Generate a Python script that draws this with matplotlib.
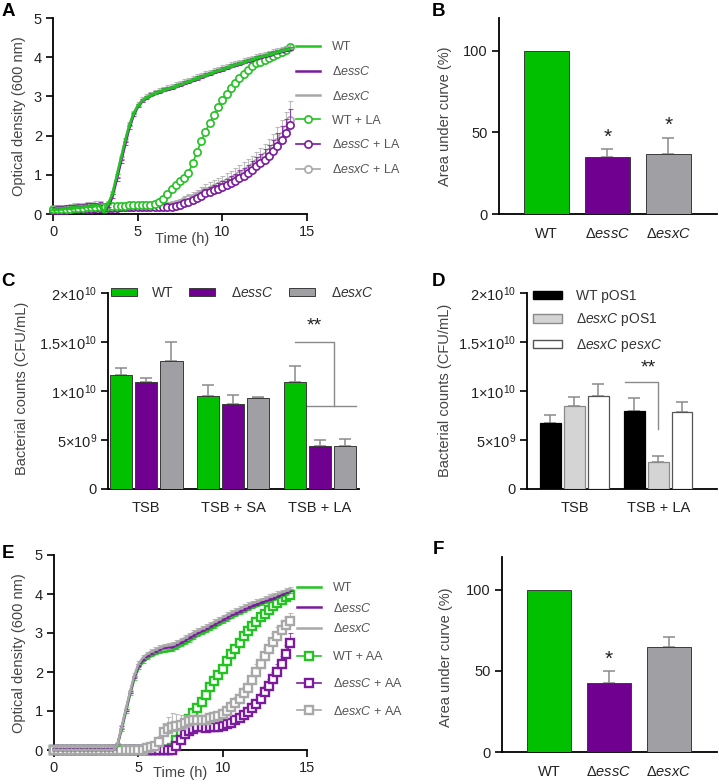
import numpy as np
import matplotlib
matplotlib.use('Agg')
import matplotlib.pyplot as plt
from matplotlib.patches import Patch

plt.rcParams['font.family'] = 'Liberation Sans'
plt.rcParams['mathtext.fontset'] = 'custom'
plt.rcParams['mathtext.rm'] = 'Liberation Sans'
plt.rcParams['mathtext.it'] = 'Liberation Sans:italic'

# ---------------- data ----------------
time_h = np.arange(0, 14.01, 0.25)

# panel A: growth in TSB +/- linoleic acid
a_wt = [0.10, 0.11, 0.12, 0.13, 0.14, 0.15, 0.16, 0.17, 0.18, 0.19, 0.20, 0.21,
        0.05, 0.25, 0.50, 0.95, 1.40, 1.85, 2.25, 2.55, 2.75, 2.88, 2.96, 3.02, 3.07,
        3.11, 3.15, 3.18, 3.21, 3.25, 3.29, 3.33, 3.37, 3.41, 3.45, 3.49, 3.53, 3.57,
        3.61, 3.65, 3.68, 3.72, 3.76, 3.79, 3.83, 3.86, 3.90, 3.93, 3.97, 4.00, 4.03,
        4.06, 4.09, 4.12, 4.15, 4.18, 4.21]
a_ess = [0.11, 0.12, 0.13, 0.14, 0.15, 0.16, 0.17, 0.18, 0.19, 0.20, 0.21, 0.22,
         0.03, 0.18, 0.42, 0.85, 1.30, 1.75, 2.18, 2.50, 2.72, 2.86, 2.94, 3.00, 3.05,
         3.09, 3.13, 3.16, 3.19, 3.23, 3.27, 3.31, 3.35, 3.39, 3.43, 3.47, 3.51, 3.55,
         3.59, 3.63, 3.66, 3.70, 3.74, 3.77, 3.81, 3.84, 3.88, 3.91, 3.95, 3.98, 4.01,
         4.04, 4.07, 4.10, 4.13, 4.16, 4.19]
a_esx = [0.12, 0.14, 0.15, 0.16, 0.18, 0.19, 0.20, 0.21, 0.22, 0.23, 0.24, 0.25,
         0.05, 0.24, 0.50, 0.94, 1.40, 1.86, 2.26, 2.56, 2.77, 2.90, 2.98, 3.04, 3.09,
         3.13, 3.17, 3.20, 3.24, 3.28, 3.32, 3.36, 3.40, 3.44, 3.48, 3.52, 3.56, 3.60,
         3.64, 3.68, 3.71, 3.75, 3.79, 3.82, 3.86, 3.89, 3.93, 3.96, 4.00, 4.03, 4.06,
         4.09, 4.12, 4.15, 4.18, 4.21, 4.24]
a_wt_la = [0.12, 0.12, 0.13, 0.13, 0.14, 0.15, 0.15, 0.16, 0.17, 0.17, 0.18, 0.19,
           0.19, 0.20, 0.20, 0.21, 0.21, 0.21, 0.22, 0.22, 0.22, 0.23, 0.23, 0.24,
           0.26, 0.30, 0.37, 0.50, 0.64, 0.75, 0.84, 0.93,
           1.05, 1.30, 1.58, 1.85, 2.10, 2.32, 2.53, 2.73, 2.92, 3.07, 3.21, 3.35,
           3.47, 3.58, 3.68, 3.77, 3.84, 3.89, 3.94, 3.98, 4.02, 4.07, 4.12, 4.19, 4.27]
a_ess_la = [0.10, 0.10, 0.11, 0.11, 0.12, 0.12, 0.13, 0.13, 0.14, 0.14, 0.15, 0.15,
            0.15, 0.16, 0.16, 0.16, 0.17, 0.17, 0.17, 0.17, 0.18, 0.18, 0.18, 0.18,
            0.18, 0.18, 0.18, 0.18,
            0.18, 0.20, 0.23, 0.27, 0.31, 0.35, 0.40, 0.47, 0.53, 0.57, 0.60, 0.65,
            0.70, 0.74, 0.79, 0.85, 0.92, 0.98, 1.05, 1.13, 1.22, 1.30, 1.39, 1.49,
            1.60, 1.74, 1.90, 2.07, 2.28]
a_esx_la = [0.11, 0.11, 0.12, 0.12, 0.13, 0.13, 0.14, 0.14, 0.15, 0.15, 0.16, 0.16,
            0.17, 0.17, 0.18, 0.18, 0.18, 0.19, 0.19, 0.19, 0.20, 0.20, 0.20, 0.20,
            0.21, 0.21, 0.21, 0.21,
            0.22, 0.25, 0.29, 0.33, 0.37, 0.41, 0.46, 0.52, 0.58, 0.62, 0.66, 0.71,
            0.76, 0.81, 0.86, 0.92, 0.99, 1.05, 1.12, 1.20, 1.29, 1.38, 1.47, 1.57,
            1.69, 1.83, 1.99, 2.17, 2.40]
a_ess_la_err = [0.03, 0.03, 0.03, 0.03, 0.03, 0.03, 0.03, 0.03, 0.03, 0.03, 0.03, 0.03,
                0.03, 0.03, 0.03, 0.03, 0.03, 0.03, 0.03, 0.03, 0.03, 0.03, 0.03, 0.03,
                0.03, 0.03, 0.03, 0.03,
                0.04, 0.05, 0.05, 0.06, 0.07, 0.08, 0.09, 0.10, 0.11, 0.12, 0.13, 0.14,
                0.15, 0.16, 0.17, 0.18, 0.19, 0.20, 0.21, 0.22, 0.23, 0.24, 0.26, 0.28,
                0.30, 0.32, 0.34, 0.36, 0.40]
a_esx_la_err = [0.05, 0.05, 0.05, 0.05, 0.06, 0.06, 0.06, 0.07, 0.07, 0.07, 0.08, 0.08,
                0.08, 0.08, 0.08, 0.08, 0.08, 0.08, 0.08, 0.08, 0.08, 0.08, 0.08, 0.08,
                0.08, 0.08, 0.08, 0.08,
                0.06, 0.08, 0.10, 0.12, 0.14, 0.15, 0.16, 0.17, 0.18, 0.19, 0.20, 0.21,
                0.22, 0.23, 0.24, 0.25, 0.26, 0.27, 0.28, 0.29, 0.30, 0.31, 0.32, 0.34,
                0.36, 0.38, 0.40, 0.43, 0.47]

# panel E: growth in TSB +/- arachidonic acid
e_wt = [0, 0, 0, 0, 0, 0, 0, 0, 0, 0, 0, 0, 0, 0, 0,
        0.10, 0.50, 0.95, 1.40, 1.80, 2.08, 2.24, 2.33, 2.40, 2.45, 2.49, 2.52, 2.53,
        2.55, 2.60, 2.66, 2.72, 2.78, 2.85, 2.92, 2.97, 3.02, 3.08, 3.14, 3.20, 3.26,
        3.32, 3.38, 3.44, 3.49, 3.54, 3.59, 3.64, 3.68, 3.72, 3.77, 3.81, 3.85, 3.89,
        3.94, 3.98, 4.03]
e_ess = [0, 0, 0, 0, 0, 0, 0, 0, 0, 0, 0, 0, 0, 0, 0,
         0.12, 0.55, 1.00, 1.45, 1.85, 2.15, 2.30, 2.40, 2.47, 2.52, 2.57, 2.62, 2.63,
         2.63, 2.68, 2.74, 2.80, 2.86, 2.93, 2.99, 3.04, 3.09, 3.15, 3.21, 3.27, 3.33,
         3.39, 3.45, 3.50, 3.55, 3.60, 3.65, 3.69, 3.73, 3.77, 3.81, 3.85, 3.88, 3.93,
         3.98, 4.03, 4.08]
e_esx = [0, 0, 0, 0, 0, 0, 0, 0, 0, 0, 0, 0, 0, 0, 0,
         0.12, 0.57, 1.03, 1.48, 1.90, 2.20, 2.36, 2.45, 2.52, 2.57, 2.62, 2.66, 2.68,
         2.70, 2.75, 2.81, 2.87, 2.94, 3.00, 3.06, 3.11, 3.16, 3.22, 3.28, 3.34, 3.40,
         3.46, 3.52, 3.57, 3.62, 3.67, 3.72, 3.76, 3.80, 3.84, 3.88, 3.92, 3.96, 4.00,
         4.04, 4.08, 4.12]
e_wt_aa = [0, 0, 0, 0, 0, 0, 0, 0, 0, 0, 0, 0, 0, 0, 0, 0, 0, 0, 0, 0, 0, 0, 0, 0,
           0, 0, 0, 0,
           0.05, 0.25, 0.45, 0.62, 0.80, 0.95, 1.08, 1.22, 1.42, 1.62, 1.78, 1.92,
           2.08, 2.27, 2.45, 2.60, 2.75, 2.92, 3.05, 3.17, 3.28, 3.40, 3.50, 3.60,
           3.70, 3.78, 3.85, 3.92, 3.97]
e_ess_aa = [0, 0, 0, 0, 0, 0, 0, 0, 0, 0, 0, 0, 0, 0, 0, 0, 0, 0, 0, 0, 0, 0, 0, 0,
            0, 0, 0, 0,
            0.00, 0.10, 0.25, 0.40, 0.50, 0.55, 0.58, 0.58, 0.57, 0.58, 0.58, 0.60,
            0.62, 0.66, 0.70, 0.76, 0.83, 0.90, 0.98, 1.08, 1.18, 1.32, 1.48, 1.65,
            1.83, 2.00, 2.20, 2.45, 2.74]
e_esx_aa = [0, 0, 0, 0, 0, 0, 0, 0, 0, 0, 0, 0, 0, 0, 0, 0, 0, 0, 0, 0, 0, 0,
            0.05, 0.08, 0.10, 0.20, 0.45, 0.55, 0.60, 0.62, 0.65, 0.70, 0.75, 0.78,
            0.78, 0.77, 0.78, 0.82, 0.85, 0.88, 0.93, 1.00, 1.10, 1.20, 1.32, 1.45,
            1.60, 1.80, 2.00, 2.20, 2.40, 2.60, 2.78, 2.93, 3.08, 3.20, 3.30]
e_ess_aa_err = [0.02, 0.02, 0.02, 0.02, 0.02, 0.02, 0.02, 0.02, 0.02, 0.02, 0.02, 0.02,
                0.02, 0.02, 0.02, 0.02, 0.02, 0.02, 0.02, 0.02, 0.02, 0.02, 0.02, 0.02,
                0.02, 0.02, 0.02, 0.02,
                0.02, 0.05, 0.08, 0.10, 0.12, 0.12, 0.12, 0.12, 0.10, 0.08, 0.08, 0.08,
                0.08, 0.08, 0.09, 0.10, 0.10, 0.11, 0.12, 0.13, 0.14, 0.15, 0.16, 0.17,
                0.18, 0.20, 0.22, 0.24, 0.26]
e_esx_aa_err = [0.02, 0.02, 0.02, 0.02, 0.02, 0.02, 0.02, 0.02, 0.02, 0.02, 0.02, 0.02,
                0.02, 0.02, 0.02, 0.02, 0.02, 0.02, 0.02, 0.02, 0.02, 0.02,
                0.05, 0.05, 0.08, 0.15, 0.25, 0.30, 0.35, 0.30, 0.25, 0.20, 0.15, 0.12,
                0.12, 0.12, 0.12, 0.12, 0.12, 0.13, 0.13, 0.14, 0.15, 0.15, 0.16, 0.17,
                0.18, 0.19, 0.20, 0.20, 0.21, 0.21, 0.22, 0.22, 0.22, 0.22, 0.22]

# panels B and F: area under curve (%)
strains = ['WT', 'Δ$\\mathit{essC}$', 'Δ$\\mathit{esxC}$']
b_auc = [100, 34.8, 36.9]
b_err = [0, 4.9, 9.9]
f_auc = [100, 42.7, 64.5]
f_err = [0, 7.4, 6.5]

# panel C: CFU/mL per medium
c_media = ['TSB', 'TSB + SA', 'TSB + LA']
c_wt = [1.16e10, 0.952e10, 1.09e10]
c_ess = [1.09e10, 0.87e10, 0.435e10]
c_esx = [1.31e10, 0.93e10, 0.435e10]
c_wt_err = [0.075e10, 0.113e10, 0.17e10]
c_ess_err = [0.04e10, 0.09e10, 0.062e10]
c_esx_err = [0.19e10, 0.01e10, 0.075e10]

# panel D: complementation
d_media = ['TSB', 'TSB + LA']
d_wt = [0.673e10, 0.793e10]
d_esx = [0.843e10, 0.279e10]
d_comp = [0.952e10, 0.782e10]
d_wt_err = [0.077e10, 0.139e10]
d_esx_err = [0.096e10, 0.061e10]
d_comp_err = [0.118e10, 0.109e10]

cfu_ticks = [0, 5e9, 1e10, 1.5e10, 2e10]
cfu_labels = ['0', '$5{\\times}10^9$', '$1{\\times}10^{10}$',
              '$1.5{\\times}10^{10}$', '$2{\\times}10^{10}$']

# ---------------- figure ----------------
W, H = 719, 784
fig = plt.figure(figsize=(W / 100, H / 100), dpi=100)

GREEN = '#22c322'
PURPLE = '#7a1a9c'
GREY = '#a8a8a8'
BAR_G = '#00c000'
BAR_P = '#70008f'
BAR_Y = '#a0a0a4'
TXT = '#444444'


def px_axes(l, t, r, b):
    return fig.add_axes([l / W, 1 - b / H, (r - l) / W, (b - t) / H])


def style(ax):
    for s in ['top', 'right']:
        ax.spines[s].set_visible(False)
    for s in ['left', 'bottom']:
        ax.spines[s].set_linewidth(1.3)
    ax.tick_params(direction='out', length=5, width=1.2, labelsize=10.5,
                   labelcolor='#222222', pad=3)


def fig_text(x, y, s, **kw):
    fig.text(x / W, 1 - y / H, s, **kw)


def curve(ax, y, err, color, marker, label, z, ms=5.2, mew=1.2, lw=1.8):
    y = np.array(y)
    err = np.array(err) * np.ones(len(y))
    ax.errorbar(time_h, y, yerr=[np.zeros(len(y)), err], fmt='none', ecolor=color,
                elinewidth=0.8, capsize=1.8, capthick=0.8, alpha=0.75, zorder=z,
                clip_on=False)
    ln, = ax.plot(time_h, y, color=color, lw=lw, marker=marker, ms=ms,
                  mfc='white', mec=color, mew=mew, label=label, zorder=z + 0.5,
                  clip_on=False)
    return ln


def err_up(ax, x, vals, errs, cap):
    # upper error bars only, skipped where the error is zero
    x = np.asarray(x, dtype=float)
    vals = np.asarray(vals, dtype=float)
    errs = np.asarray(errs, dtype=float)
    keep = errs > 0
    ax.errorbar(x[keep], vals[keep], yerr=[np.zeros(keep.sum()), errs[keep]],
                fmt='none', ecolor='#8a8a8a', elinewidth=1.1, capsize=cap,
                capthick=1.1, zorder=2)


# ----- A -----
axA = px_axes(53, 18, 307, 214)
style(axA)
h3 = curve(axA, a_esx_la, a_esx_la_err, GREY, 'o', 'Δ$\\mathit{esxC}$ + LA', 2, lw=1.2)
h2 = curve(axA, a_ess_la, a_ess_la_err, PURPLE, 'o', 'Δ$\\mathit{essC}$ + LA', 3, lw=1.2)
h1 = curve(axA, a_wt_la, 0.07, GREEN, 'o', 'WT + LA', 4, lw=1.2)
s3 = curve(axA, a_esx, 0.08, GREY, None, 'Δ$\\mathit{esxC}$', 5)
s2 = curve(axA, a_ess, 0.08, PURPLE, None, 'Δ$\\mathit{essC}$', 6)
s1 = curve(axA, a_wt, 0.06, GREEN, None, 'WT', 7)
axA.set_xlim(0, 15)
axA.set_ylim(0, 5)
axA.set_xticks([0, 5, 10, 15])
axA.set_yticks([0, 1, 2, 3, 4, 5])
axA.text(0.51, -0.125, 'Time (h)', transform=axA.transAxes, ha='center', va='center',
         fontsize=10.5, color=TXT)
fig.legend(handles=[s1, s2, s3, h1, h2, h3], loc='upper left',
           bbox_to_anchor=(296 / W, 1 - 41 / H), frameon=False, fontsize=9,
           handlelength=1.9, handletextpad=1.0, labelspacing=0.95, borderpad=0,
           borderaxespad=0, labelcolor='#555555')

# ----- E -----
axE = px_axes(54, 555, 307, 750)
style(axE)
q1 = curve(axE, e_wt_aa, 0.08, GREEN, 's', 'WT + AA', 2, ms=5.4, mew=1.7, lw=1.2)
q2 = curve(axE, e_ess_aa, e_ess_aa_err, PURPLE, 's', 'Δ$\\mathit{essC}$ + AA', 3,
           ms=5.4, mew=1.7, lw=1.2)
q3 = curve(axE, e_esx_aa, e_esx_aa_err, GREY, 's', 'Δ$\\mathit{esxC}$ + AA', 4,
           ms=5.4, mew=1.7, lw=1.2)
r1 = curve(axE, e_wt, 0.06, GREEN, None, 'WT', 5)
r2 = curve(axE, e_ess, 0.06, PURPLE, None, 'Δ$\\mathit{essC}$', 6)
r3 = curve(axE, e_esx, 0.07, GREY, None, 'Δ$\\mathit{esxC}$', 7)
axE.set_xlim(0, 15)
axE.set_ylim(0, 5)
axE.set_xticks([0, 5, 10, 15])
axE.set_yticks([0, 1, 2, 3, 4, 5])
axE.text(0.50, -0.12, 'Time (h)', transform=axE.transAxes, ha='center', va='center',
         fontsize=10.5, color=TXT)
fig.legend(handles=[r1, r2, r3], loc='upper left',
           bbox_to_anchor=(297 / W, 1 - 582 / H), frameon=False, fontsize=9,
           handlelength=1.9, handletextpad=1.0, labelspacing=0.6, borderpad=0,
           borderaxespad=0, labelcolor='#555555')
fig.legend(handles=[q1, q2, q3], loc='upper left',
           bbox_to_anchor=(297 / W, 1 - 651 / H), frameon=False, fontsize=9,
           handlelength=1.9, handletextpad=1.0, labelspacing=1.15, borderpad=0,
           borderaxespad=0, labelcolor='#555555')


# ----- B, F -----
def auc_panel(ax, vals, errs, stars):
    style(ax)
    x = np.arange(len(vals))
    ax.bar(x, vals, 0.74, color=[BAR_G, BAR_P, BAR_Y], edgecolor='#3a3a3a', lw=0.7,
           zorder=3)
    err_up(ax, x, vals, errs, 4.5)
    for xi, yi in stars:
        ax.text(xi, yi, '*', ha='center', va='center', fontsize=15, color='#222222')
    ax.set_xlim(-0.78, 2.8)
    ax.set_ylim(0, 120)
    ax.set_yticks([0, 50, 100])
    ax.set_xticks(x)
    ax.set_xticklabels(strains)
    ax.tick_params(axis='x', length=0, pad=9)


axB = px_axes(499, 18, 717, 214)
auc_panel(axB, b_auc, b_err, [(1, 47), (2, 54)])
axF = px_axes(502, 557, 717, 752)
auc_panel(axF, f_auc, f_err, [(1, 57)])

# ----- C -----
axC = px_axes(108, 293, 359, 489)
style(axC)
xc = np.arange(len(c_media))
for off, vals, errs, col in [(-0.29, c_wt, c_wt_err, BAR_G),
                             (0.0, c_ess, c_ess_err, BAR_P),
                             (0.29, c_esx, c_esx_err, BAR_Y)]:
    axC.bar(xc + off, vals, 0.256, color=col, edgecolor='#3a3a3a', lw=0.7, zorder=3)
    err_up(axC, xc + off, vals, errs, 4)
axC.plot([1.71, 2.16, 2.16], [1.5e10, 1.5e10, 0.843e10], color='#8a8a8a', lw=1)
axC.plot([1.8, 2.42], [0.843e10, 0.843e10], color='#8a8a8a', lw=1)
axC.text(1.94, 1.66e10, '**', ha='center', va='center', fontsize=14, color='#222222')
axC.set_xlim(-0.44, 2.45)
axC.set_ylim(0, 2e10)
axC.set_yticks(cfu_ticks)
axC.set_yticklabels(cfu_labels)
axC.set_xticks(xc)
axC.set_xticklabels(c_media)
axC.tick_params(axis='x', length=0, pad=9)
axC.legend(handles=[Patch(facecolor=BAR_G, edgecolor='#3a3a3a', lw=0.7, label='WT'),
                    Patch(facecolor=BAR_P, edgecolor='#3a3a3a', lw=0.7,
                          label='Δ$\\mathit{essC}$'),
                    Patch(facecolor=BAR_Y, edgecolor='#3a3a3a', lw=0.7,
                          label='Δ$\\mathit{esxC}$')],
           ncol=3, loc='upper left', bbox_to_anchor=(0.01, 1.035), frameon=False,
           fontsize=10, handlelength=1.9, handleheight=0.45, handletextpad=1.1,
           columnspacing=1.1, borderpad=0, borderaxespad=0, labelcolor='#333333')

# ----- D -----
axD = px_axes(527, 293, 717, 489)
style(axD)
xd = np.arange(len(d_media))
for off, vals, errs, col, ec in [(-0.285, d_wt, d_wt_err, '#000000', '#000000'),
                                 (0.0, d_esx, d_esx_err, '#d4d4d4', '#8a8a8a'),
                                 (0.285, d_comp, d_comp_err, '#ffffff', '#555555')]:
    axD.bar(xd + off, vals, 0.245, color=col, edgecolor=ec, lw=0.9, zorder=3)
    err_up(axD, xd + off, vals, errs, 4)
axD.plot([0.6, 1.0, 1.0], [1.09e10, 1.09e10, 0.616e10], color='#8a8a8a', lw=1)
axD.text(0.875, 1.23e10, '**', ha='center', va='center', fontsize=14, color='#222222')
axD.set_xlim(-0.565, 1.70)
axD.set_ylim(0, 2e10)
axD.set_yticks(cfu_ticks)
axD.set_yticklabels(cfu_labels)
axD.set_xticks(xd)
axD.set_xticklabels(d_media)
axD.tick_params(axis='x', length=0, pad=9)
axD.legend(handles=[Patch(facecolor='#000000', edgecolor='#000000', label='WT pOS1'),
                    Patch(facecolor='#d4d4d4', edgecolor='#8a8a8a',
                          label='Δ$\\mathit{esxC}$ pOS1'),
                    Patch(facecolor='#ffffff', edgecolor='#555555',
                          label='Δ$\\mathit{esxC}$ p$\\mathit{esxC}$')],
           loc='upper left', bbox_to_anchor=(0.03, 1.02), frameon=False,
           fontsize=10, handlelength=2.1, handleheight=0.55, handletextpad=1.0,
           labelspacing=0.6, borderpad=0, borderaxespad=0, labelcolor='#333333')

# ----- axis titles and panel letters -----
fig_text(19, 116, 'Optical density (600 nm)', rotation=90, ha='center', va='center',
         fontsize=10.5, color=TXT)
fig_text(19, 653, 'Optical density (600 nm)', rotation=90, ha='center', va='center',
         fontsize=10.5, color=TXT)
fig_text(445, 116, 'Area under curve (%)', rotation=90, ha='center', va='center',
         fontsize=10.5, color=TXT)
fig_text(446, 657, 'Area under curve (%)', rotation=90, ha='center', va='center',
         fontsize=10.5, color=TXT)
fig_text(22, 388, 'Bacterial counts (CFU/mL)', rotation=90, ha='center', va='center',
         fontsize=10.5, color=TXT)
fig_text(445, 390, 'Bacterial counts (CFU/mL)', rotation=90, ha='center', va='center',
         fontsize=10.5, color=TXT)

for letter, x, y in [('A', 2, 3), ('B', 432, 3), ('C', 1, 273), ('D', 432, 273),
                     ('E', 2, 545), ('F', 433, 541)]:
    fig_text(x, y, letter, ha='left', va='top', fontsize=13.5, fontweight='bold',
             color='#000000')

fig.savefig('out.png', dpi=100)
